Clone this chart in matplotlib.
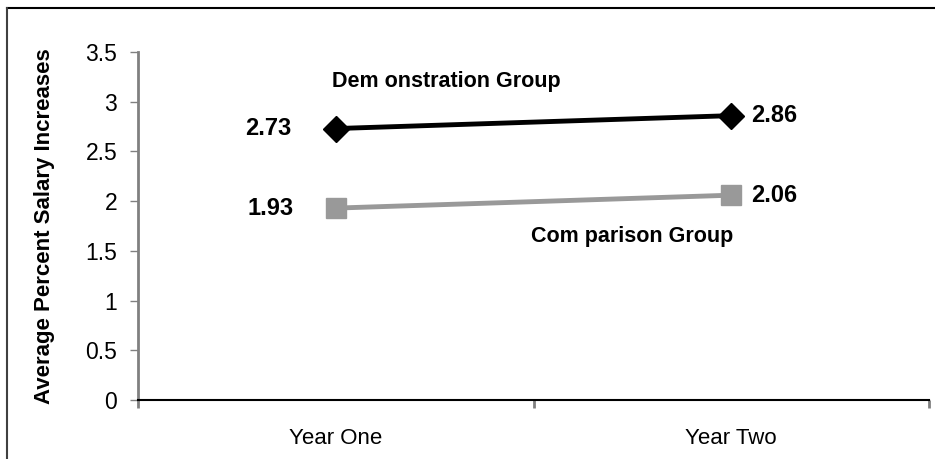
import matplotlib.pyplot as plt
from matplotlib.lines import Line2D

plt.rcParams['font.family'] = ['Liberation Sans', 'DejaVu Sans']

# data
years = ["Year One", "Year Two"]
demo_values = [2.73, 2.86]
comp_values = [1.93, 2.06]
y_ticks = [0, 0.5, 1, 1.5, 2, 2.5, 3, 3.5]
y_tick_labels = ["0", "0.5", "1", "1.5", "2", "2.5", "3", "3.5"]

W, H = 935, 459
fig = plt.figure(figsize=(W / 100, H / 100), dpi=100)
ax = fig.add_axes([138 / W, 1 - 400 / H, (929 - 138) / W, (400 - 52) / H])

x = [0.5, 1.5]
ax.plot(x, demo_values, color='black', lw=3.5, marker='D', ms=13,
        markerfacecolor='black', markeredgecolor='black', zorder=3)
ax.plot(x, comp_values, color='#999999', lw=3.5, marker='s', ms=14,
        markerfacecolor='#999999', markeredgecolor='#999999', zorder=3)

# value labels: first point labelled on the left, second on the right
left_off = [-32, -30]
for vals, lo in zip([demo_values, comp_values], left_off):
    ax.annotate(f"{vals[0]:.2f}", (x[0], vals[0]), xytext=(lo, 0), textcoords='offset points',
                ha='right', va='center', fontsize=17, fontweight='bold')
    ax.annotate(f"{vals[1]:.2f}", (x[1], vals[1]), xytext=(14, 0), textcoords='offset points',
                ha='left', va='center', fontsize=17, fontweight='bold')

ax.text(0.78, 3.2, "Dem onstration Group", ha='center', va='center',
        fontsize=15.5, fontweight='bold')
ax.text(1.25, 1.64, "Com parison Group", ha='center', va='center',
        fontsize=15.5, fontweight='bold')

ax.set_xlim(0, 2)
ax.set_ylim(0, 3.5)
ax.set_yticks(y_ticks)
ax.set_yticklabels(y_tick_labels, fontsize=16.5)
ax.set_xticks(x)
ax.set_xticklabels(years, fontsize=16)
ax.tick_params(axis='x', length=0, pad=20)
ax.set_xticks([0, 1, 2], minor=True)
ax.tick_params(axis='x', which='minor', length=6, width=2, color='#808080', direction='out')
ax.tick_params(axis='y', length=6, width=1, color='#808080', direction='out', pad=9)

for s in ['top', 'right']:
    ax.spines[s].set_visible(False)
ax.spines['left'].set_color('#808080')
ax.spines['left'].set_linewidth(2)
ax.spines['bottom'].set_color('black')
ax.spines['bottom'].set_linewidth(1.5)

ax.set_ylabel("Average Percent Salary Increases", fontsize=16, fontweight='bold')
ax.yaxis.set_label_coords((45 - 138) / 791, 0.5)
ax.yaxis.label.set_va('center')

# outer frame (only top and left visible in picture)
fig.add_artist(Line2D([7 / W, 1.0], [1 - 8 / H, 1 - 8 / H], transform=fig.transFigure,
                      color='black', lw=1.5))
fig.add_artist(Line2D([7 / W, 7 / W], [0, 1 - 8 / H], transform=fig.transFigure,
                      color='#404040', lw=1.5))

fig.savefig('out.png', dpi=100)
